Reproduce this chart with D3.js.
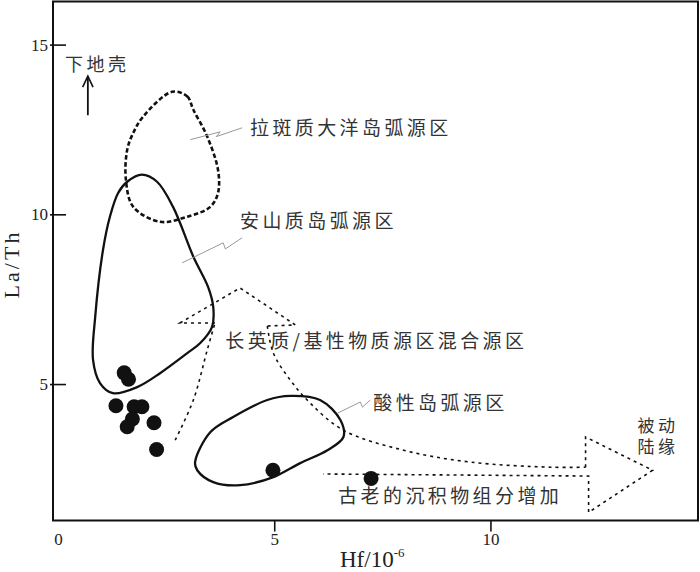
<!DOCTYPE html>
<html>
<head>
<meta charset="utf-8">
<script src="https://cdn.jsdelivr.net/npm/d3@7"></script>
<style>
  body { margin: 0; background: #fff; }
</style>
</head>
<body>
<div id="chart"></div>
<script>
let svgWidth = 700;
let svgHeight = 572;

// sample points (Hf, La/Th)
let hfValues = [1.53, 1.63, 1.34, 1.76, 1.94, 1.72, 1.60, 2.22, 2.28, 4.97, 7.24];
let laThValues = [5.33, 5.14, 4.36, 4.33, 4.33, 3.97, 3.74, 3.86, 3.07, 2.46, 2.22];

// source field outlines [Hf, La/Th]
let oceanicArc = [[2.64, 13.61], [2.99, 13.47], [3.13, 13.08], [3.45, 12.29], [3.70, 11.31], [3.70, 10.63],
  [3.52, 10.22], [2.99, 9.93], [2.36, 9.78], [1.74, 10.22], [1.57, 11.02], [1.60, 11.90], [1.74, 12.40], [1.97, 12.88]];
let andesiticArc = [[1.94, 11.17], [2.29, 10.96], [2.66, 10.22], [3.13, 8.75], [3.47, 7.86], [3.59, 7.27],
  [3.56, 6.68], [3.29, 6.21], [2.99, 5.91], [2.36, 5.32], [1.83, 4.91], [1.27, 4.73], [0.97, 5.03],
  [0.81, 5.71], [0.86, 6.98], [1.04, 8.95], [1.20, 9.93], [1.39, 10.63], [1.60, 10.96]];
let felsicArc = [[3.17, 2.70], [3.52, 3.58], [4.05, 4.03], [4.84, 4.53], [5.37, 4.65], [6.06, 4.53], [6.53, 3.94],
  [6.60, 3.44], [6.23, 3.05], [5.60, 2.67], [4.98, 2.26], [4.21, 2.02], [3.59, 2.11], [3.22, 2.46]];

// dotted mixing arrow pieces
let mixLeftShaft = [[2.71, 3.35], [3.13, 4.53], [3.45, 6.00], [3.63, 6.80]];
let mixUpHead = [[3.63, 6.80], [2.82, 6.80], [4.21, 7.83], [5.49, 6.74], [4.84, 6.71]];
let mixRightShaft = [[4.84, 6.71], [4.98, 5.91], [5.37, 5.12], [5.83, 4.44], [6.60, 3.64], [7.99, 3.05],
  [9.54, 2.70], [11.39, 2.55], [12.20, 2.55]];
let mixRightHead = [[12.20, 2.55], [12.20, 3.44], [13.75, 2.46], [12.27, 1.22], [12.27, 2.29], [6.13, 2.35]];

// leader lines
let leaderOceanic = [[3.06, 12.20], [3.75, 12.43], [3.66, 12.29], [4.26, 12.55]];
let leaderAndesitic = [[2.87, 8.57], [3.82, 9.16], [3.87, 8.98], [4.26, 9.31]];
let leaderFelsic = [[6.46, 4.14], [6.99, 4.47], [7.04, 4.32], [7.22, 4.53]];

let xTicks = [0, 5, 10];
let yTicks = [5, 10, 15];

let labelTexts = ["下地壳", "拉斑质大洋岛弧源区", "安山质岛弧源区", "长英质/基性物质源区混合源区",
  "酸性岛弧源区", "被动|陆缘", "古老的沉积物组分增加"];

let frame = { left: 53, right: 698, top: 1.5, bottom: 520.5 };

let svg = d3.select("#chart")
  .append("svg")
  .attr("width", svgWidth)
  .attr("height", svgHeight);

let x = d3.scaleLinear().domain([-0.116, 14.8]).range([frame.left, frame.right]);
let y = d3.scaleLinear().domain([0.98, 16.27]).range([frame.bottom, frame.top]);

let line = d3.line().x(d => x(d[0])).y(d => y(d[1]));
let closedLine = d3.line().x(d => x(d[0])).y(d => y(d[1])).curve(d3.curveCatmullRomClosed.alpha(0.5));
let openCurve = d3.line().x(d => x(d[0])).y(d => y(d[1])).curve(d3.curveCatmullRom.alpha(0.5));

// frame
svg.append("rect")
  .attr("x", frame.left)
  .attr("y", frame.top)
  .attr("width", frame.right - frame.left)
  .attr("height", frame.bottom - frame.top)
  .attr("fill", "none")
  .attr("stroke", "#111")
  .attr("stroke-width", 2);

// axes
let xAxis = svg.append("g")
  .attr("transform", `translate(0, ${frame.bottom})`)
  .call(d3.axisBottom(x).tickValues(xTicks).tickSize(11).tickPadding(1));
let yAxis = svg.append("g")
  .attr("transform", `translate(${frame.left}, 0)`)
  .call(d3.axisLeft(y).tickValues(yTicks).tickSize(-13).tickPadding(5));

[xAxis, yAxis].forEach(g => {
  g.select(".domain").remove();
  g.selectAll("line").attr("stroke", "#111").attr("stroke-width", 1.6);
  g.selectAll("text")
    .attr("font-family", "Liberation Serif, serif")
    .attr("font-size", 17)
    .attr("fill", "#222");
});
xAxis.selectAll(".tick").filter(d => d === 0).select("line").remove();
yAxis.selectAll("line").attr("x1", -3);

// axis titles
let xTitle = svg.append("text")
  .attr("x", 340)
  .attr("y", 567)
  .attr("font-family", "Liberation Serif, serif")
  .attr("font-size", 23)
  .attr("fill", "#222");
xTitle.append("tspan").text("Hf/10");
xTitle.append("tspan").attr("dy", -10).attr("font-size", 13).text("-6");

svg.append("text")
  .attr("transform", "translate(19, 264) rotate(-90)")
  .attr("text-anchor", "middle")
  .attr("font-family", "Liberation Serif, serif")
  .attr("font-size", 22)
  .attr("letter-spacing", 3)
  .attr("fill", "#222")
  .text("La/Th");

// field outlines
svg.append("path")
  .attr("d", closedLine(oceanicArc))
  .attr("fill", "none")
  .attr("stroke", "#111")
  .attr("stroke-width", 2.6)
  .attr("stroke-dasharray", "4.5,2.5");

[andesiticArc, felsicArc].forEach(pts => {
  svg.append("path")
    .attr("d", closedLine(pts))
    .attr("fill", "none")
    .attr("stroke", "#111")
    .attr("stroke-width", 2.3);
});

// dotted mixing arrows
[openCurve(mixLeftShaft), line(mixUpHead), openCurve(mixRightShaft), line(mixRightHead)].forEach(dd => {
  svg.append("path")
    .attr("d", dd)
    .attr("fill", "none")
    .attr("stroke", "#111")
    .attr("stroke-width", 1.6)
    .attr("stroke-dasharray", "3,4");
});

// leader lines
[leaderOceanic, leaderAndesitic, leaderFelsic].forEach(pts => {
  svg.append("path")
    .attr("d", line(pts))
    .attr("fill", "none")
    .attr("stroke", "#999")
    .attr("stroke-width", 1);
});

// lower crust arrow
svg.append("path")
  .attr("d", line([[0.69, 12.92], [0.69, 14.07]]))
  .attr("stroke", "#111")
  .attr("stroke-width", 1.8);
svg.append("path")
  .attr("d", line([[0.57, 13.75], [0.69, 14.07], [0.81, 13.75]]))
  .attr("fill", "none")
  .attr("stroke", "#111")
  .attr("stroke-width", 1.6);

// samples
svg.selectAll("circle")
  .data(hfValues)
  .enter()
  .append("circle")
  .attr("cx", d => x(d))
  .attr("cy", (d, i) => y(laThValues[i]))
  .attr("r", 7.5)
  .attr("fill", "#111");

// labels ("|" = line break)
let labelPos = [[0.16, 14.22, 18], [4.44, 12.33, 19], [4.21, 9.59, 19], [3.87, 6.06, 19],
  [7.29, 4.23, 19], [13.40, 3.58, 17], [6.48, 1.49, 19]];
let labels = svg.selectAll(".lbl")
  .data(labelTexts)
  .enter()
  .append("text")
  .attr("class", "lbl")
  .attr("y", (d, i) => y(labelPos[i][1]))
  .attr("font-family", "Noto Sans CJK SC, sans-serif")
  .attr("font-size", (d, i) => labelPos[i][2])
  .attr("letter-spacing", (d, i) => labelPos[i][2] === 19 ? 3.4 : 3.5)
  .attr("fill", "#333");

labels.each(function(d, i) {
  d.split("|").forEach((part, k) => {
    d3.select(this).append("tspan")
      .attr("x", x(labelPos[i][0]))
      .attr("dy", k === 0 ? 0 : 21)
      .text(part);
  });
});
</script>
</body>
</html>
